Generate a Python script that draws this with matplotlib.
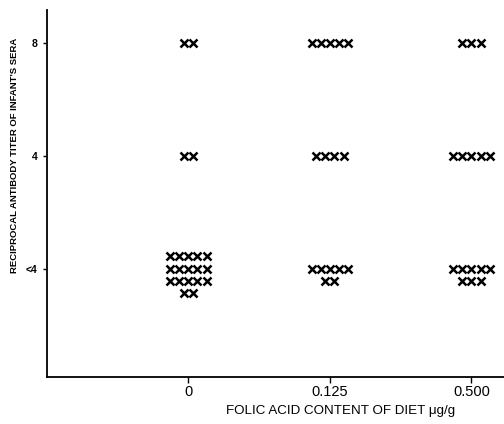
import matplotlib

matplotlib.use("Agg")
import matplotlib.pyplot as plt

plt.rcParams["font.family"] = ["Liberation Sans", "DejaVu Sans"]

doses = ["0", "0.125", "0.500"]
titers = ["<4", "4", "8"]

# number of sera per printed row of crosses, top row first
rows_8 = [[2], [5], [3]]
rows_4 = [[2], [4], [5]]
rows_lt4 = [[5, 5, 5, 2], [5, 2], [5, 3]]
# vertical row index of the first row relative to the titer level
first_row_lt4 = [1, 0, 0]

col_step = 0.064
row_step = 0.11

fig = plt.figure(figsize=(5.04, 4.24), dpi=100)
ax = fig.add_axes([0.093, 0.111, 0.907, 0.865])


def draw_group(xi, yi, rows, first=0):
    for r, n in enumerate(rows):
        y = yi + (first - r) * row_step
        xs = [xi + (k - (n - 1) / 2) * col_step for k in range(n)]
        ax.plot(xs, [y] * n, "x", color="black", ms=6, mew=1.8, ls="none")


for i in range(len(doses)):
    draw_group(i, 2, rows_8[i])
    draw_group(i, 1, rows_4[i])
    draw_group(i, 0, rows_lt4[i], first_row_lt4[i])

ax.set_xlim(-1.0, 2.23)
ax.set_ylim(-0.96, 2.29)
ax.set_xticks(range(len(doses)))
ax.set_xticklabels(doses, fontsize=10.5)
ax.set_yticks(range(len(titers)))
ax.set_yticklabels(titers, fontsize=7.5, fontweight="bold")
ax.tick_params(axis="x", length=4, width=1, pad=1.5)
ax.tick_params(axis="y", length=3, width=1, pad=4)
for s in ["top", "right"]:
    ax.spines[s].set_visible(False)
ax.spines["left"].set_linewidth(1.3)
ax.spines["bottom"].set_linewidth(1.3)

fig.text(341 / 504, 1 - 411 / 424, "FOLIC ACID CONTENT OF DIET μg/g",
         fontsize=9.6, ha="center", va="center")
fig.text(15 / 504, 1 - 155 / 424, "RECIPROCAL ANTIBODY TITER OF INFANT'S SERA",
         fontsize=6.8, fontweight="bold", rotation=90, ha="center", va="center")

fig.savefig("out.png", dpi=100)
